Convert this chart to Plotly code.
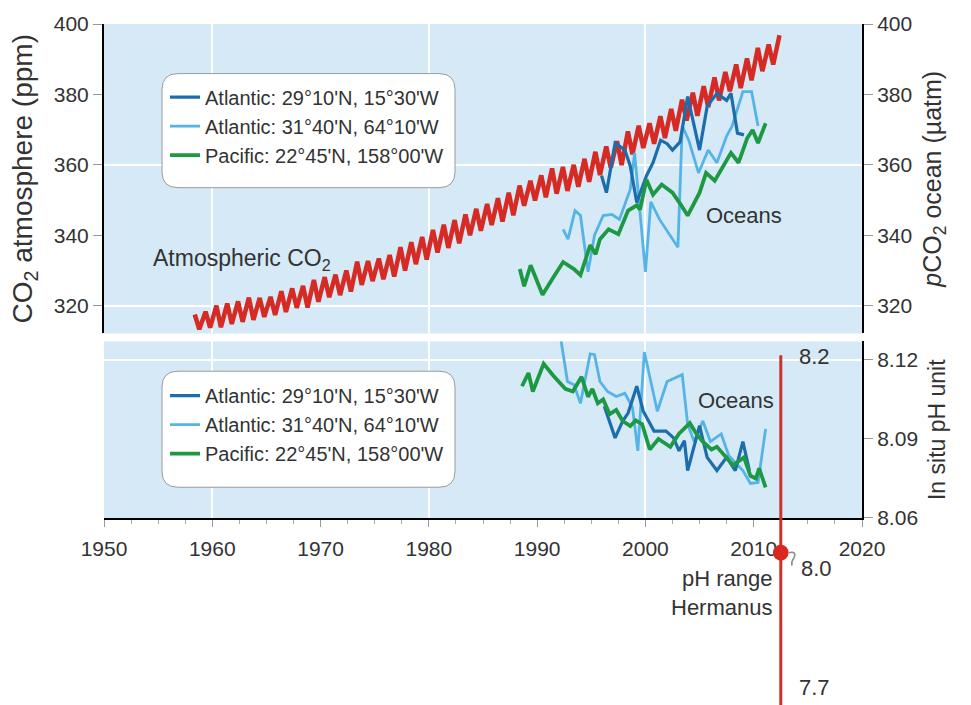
import plotly.graph_objects as go

# ---------------- data ----------------
co2_years = list(range(1958, 2013))
co2_peak = [317.5, 318.3, 320.0, 320.6, 321.2, 322.3, 322.2, 322.5, 324.1, 324.9,
            325.6, 327.3, 328.1, 328.8, 330.0, 332.5, 332.7, 333.4, 334.4, 336.6,
            338.0, 339.5, 341.5, 343.0, 344.3, 345.9, 347.5, 348.9, 350.5, 352.1,
            354.1, 355.5, 357.0, 359.0, 359.4, 360.0, 361.7, 363.7, 365.2, 366.7,
            369.5, 371.1, 371.8, 373.8, 375.9, 378.5, 380.5, 382.3, 384.8, 386.4,
            388.5, 390.2, 393.2, 394.2, 396.8]
co2_trough = [313.3, 313.8, 313.9, 314.8, 315.4, 316.0, 316.8, 317.4, 318.2, 319.4,
              319.5, 321.1, 322.4, 323.0, 324.0, 325.9, 327.0, 327.5, 328.3, 330.0,
              331.8, 333.1, 335.1, 336.4, 337.7, 340.0, 341.3, 342.9, 343.9, 345.7,
              348.4, 349.9, 350.8, 351.8, 352.6, 353.8, 355.2, 357.1, 359.2, 359.9,
              363.0, 364.8, 366.0, 367.6, 369.7, 372.6, 373.9, 376.4, 378.3, 380.9,
              381.8, 384.0, 386.6, 388.5]
peak_offset = 0.38
trough_offset = 0.8

# pCO2 ocean (uatm)
estoc_pco2_x = [1995.95, 1996.4, 1997.2, 1998.1, 1998.6, 1999.2, 2000.1, 2000.7, 2001.4, 2002.0,
                2002.5, 2003.2, 2003.9, 2005.0, 2005.7, 2006.6, 2007.5, 2007.9, 2008.5, 2009.1]
estoc_pco2 = [356.9, 352.1, 366.2, 364.2, 359.7, 349.3, 356.9, 360.6, 367.0, 366.0,
              364.2, 366.5, 379.4, 364.2, 376.6, 380.3, 378.3, 380.3, 369.0, 368.5]

bats_pco2_x = [1992.4, 1992.85, 1993.5, 1994.0, 1994.7, 1995.3, 1996.1, 1996.9, 1997.6, 1998.6,
               1999.0, 2000.0, 2000.5, 2001.3, 2003.0, 2003.4, 2004.0, 2004.9, 2005.8, 2006.6,
               2007.5, 2008.0, 2009.0, 2009.8, 2010.4]
bats_pco2 = [341.7, 338.9, 347.0, 345.6, 329.6, 340.0, 345.6, 345.9, 344.5, 353.0,
             363.4, 329.6, 349.5, 344.5, 336.6, 371.0, 367.0, 357.7, 364.2, 360.6,
             368.2, 371.0, 380.8, 380.8, 371.0]

hot_pco2_x = [1988.4, 1988.8, 1989.4, 1990.5, 1991.4, 1992.4, 1993.4, 1994.0, 1994.9, 1995.4,
              1995.8, 1996.6, 1997.5, 1998.4, 1999.2, 1999.5, 2000.1, 2000.7, 2001.5, 2002.5,
              2003.2, 2003.9, 2005.0, 2005.6, 2006.4, 2007.2, 2007.9, 2008.6, 2009.4, 2009.9,
              2010.4, 2011.1]
hot_pco2 = [330.4, 325.5, 331.5, 323.1, 327.6, 332.4, 330.4, 328.7, 337.2, 334.6,
            338.9, 341.7, 340.3, 347.0, 348.5, 347.3, 355.8, 351.5, 354.4, 352.1,
            349.0, 345.6, 352.1, 357.7, 355.5, 359.7, 363.4, 360.6, 367.6, 369.9,
            366.2, 371.8]

# in situ pH
estoc_ph_x = [1996.2, 1997.2, 1997.9, 1998.4, 1999.2, 1999.8, 2000.8, 2001.9, 2002.6, 2003.1,
              2003.6, 2003.9, 2005.0, 2005.7, 2006.6, 2007.5, 2008.3, 2009.0, 2009.6]
estoc_ph = [8.1024, 8.0904, 8.0968, 8.0998, 8.110, 8.1005, 8.093, 8.093, 8.0904, 8.0855,
            8.0893, 8.078, 8.095, 8.083, 8.078, 8.083, 8.078, 8.089, 8.078]

bats_ph_x = [1992.2, 1992.8, 1993.4, 1994.0, 1994.9, 1995.3, 1995.8, 1996.5, 1997.3, 1998.1,
             1998.8, 1999.3, 1999.9, 2001.1, 2002.0, 2003.0, 2003.4, 2003.9, 2004.5, 2005.3,
             2006.0, 2007.0, 2007.7, 2009.0, 2009.7, 2010.4, 2011.1]
bats_ph = [8.1275, 8.1118, 8.1106, 8.1035, 8.1223, 8.122, 8.1118, 8.108, 8.1061, 8.1073,
           8.102, 8.0855, 8.123, 8.1005, 8.1118, 8.1136, 8.1144, 8.0956, 8.089, 8.0968,
           8.089, 8.0919, 8.0836, 8.078, 8.0731, 8.0735, 8.0938]

hot_ph_x = [1988.6, 1989.2, 1989.6, 1990.6, 1991.5, 1992.6, 1993.3, 1994.1, 1994.7, 1995.1,
            1995.6, 1996.1, 1996.7, 1997.3, 1997.9, 1998.6, 1999.1, 1999.7, 2000.4, 2001.2,
            2002.3, 2003.1, 2004.1, 2004.7, 2005.3, 2006.1, 2006.6, 2007.3, 2008.1, 2009.1,
            2009.7, 2010.2, 2010.5, 2011.1]
hot_ph = [8.110, 8.115, 8.108, 8.1185, 8.114, 8.109, 8.108, 8.1136, 8.106, 8.109,
          8.1035, 8.105, 8.0994, 8.101, 8.0968, 8.0949, 8.097, 8.0956, 8.086, 8.090,
          8.087, 8.092, 8.096, 8.092, 8.089, 8.086, 8.087, 8.0836, 8.080, 8.083,
          8.076, 8.075, 8.0788, 8.0716]

series_names = ["Atlantic: 29°10'N, 15°30'W", "Atlantic: 31°40'N, 64°10'W",
                "Pacific: 22°45'N, 158°00'W"]
series_colors = ["#1c6dab", "#55b4e6", "#1d9944"]
series_widths = [3.2, 2.8, 3.8]

x_tick_years = [1950, 1960, 1970, 1980, 1990, 2000, 2010, 2020]
x_grid_years = [1960, 1980, 2000]
co2_ticks = [320, 340, 360, 380, 400]
co2_grid = [320, 360, 400]
ph_ticks = [8.06, 8.09, 8.12]
ph_grid = [8.12]

hermanus_year = 2012.5
hermanus_labels = ["8.2", "8.0", "7.7"]

# ---------------- build ----------------
co2_x, co2_y = [], []
for i, yr in enumerate(co2_years):
    co2_x.append(yr + peak_offset)
    co2_y.append(co2_peak[i])
    if i < len(co2_trough):
        co2_x.append(yr + trough_offset)
        co2_y.append(co2_trough[i])

FONT = "Liberation Sans, Arial, sans-serif"
TXT = "#333333"
BG = "#d5e9f6"

fig = go.Figure()

fig.add_trace(go.Scatter(x=co2_x, y=co2_y, mode="lines", xaxis="x", yaxis="y",
                         line=dict(color="#d62b24", width=4.5), showlegend=False))

upper = [(estoc_pco2_x, estoc_pco2), (bats_pco2_x, bats_pco2), (hot_pco2_x, hot_pco2)]
lower = [(estoc_ph_x, estoc_ph), (bats_ph_x, bats_ph), (hot_ph_x, hot_ph)]
order = [1, 0, 2]  # draw light blue beneath dark blue
for k in order:
    xs, ys = upper[k]
    fig.add_trace(go.Scatter(x=xs, y=ys, mode="lines", xaxis="x", yaxis="y3",
                             name=series_names[k], legend="legend", legendrank=k + 1,
                             line=dict(color=series_colors[k], width=series_widths[k])))
for k in order:
    xs, ys = lower[k]
    fig.add_trace(go.Scatter(x=xs, y=ys, mode="lines", xaxis="x2", yaxis="y2",
                             name=series_names[k], legend="legend2", legendrank=k + 1,
                             line=dict(color=series_colors[k], width=series_widths[k])))

# helper traces so the grid-only axes are drawn
fig.add_trace(go.Scatter(x=[None], y=[None], xaxis="x", yaxis="y5", showlegend=False, hoverinfo="skip"))
fig.add_trace(go.Scatter(x=[None], y=[None], xaxis="x2", yaxis="y6", showlegend=False, hoverinfo="skip"))
fig.add_trace(go.Scatter(x=[None], y=[None], xaxis="x3", yaxis="y2", showlegend=False, hoverinfo="skip"))

# page geometry (body margin removed by post_script)
W, H = 971, 705
PLOT_L, PLOT_R, PLOT_T, PLOT_B = 104, 862, 20, 518
L, T, R, B = PLOT_L, PLOT_T, W - PLOT_R, H - PLOT_B
PW, PH = PLOT_R - PLOT_L, PLOT_B - PLOT_T


def px(xp):
    return (xp - PLOT_L) / PW


def py(yp):
    return (PLOT_B - yp) / PH


up_dom = [py(332), 1.0]
lo_dom = [0.0, py(340)]
co2_range = [312.1, 400]
ph_range = [8.06, 8.127]
x_range = [1950, 2020]

tickfont = dict(family=FONT, size=21, color=TXT)

grid_common = dict(showticklabels=False, ticks="", showgrid=True, gridcolor="white",
                   gridwidth=2, showline=False, zeroline=False)

fig.update_layout(
    width=W, height=H,
    margin=dict(l=L, r=R, t=T, b=B),
    paper_bgcolor="white", plot_bgcolor=BG,
    font=dict(family=FONT, color=TXT),
    xaxis=dict(domain=[0, 1], anchor="y", range=x_range, tickvals=x_grid_years, **grid_common),
    xaxis2=dict(domain=[0, 1], anchor="y2", range=x_range, tickvals=x_tick_years,
                ticks="outside", ticklen=7, tickwidth=1, tickcolor="#999",
                ticklabelstandoff=4,
                tickfont=tickfont, showgrid=False, showline=True, linecolor="black",
                linewidth=2, zeroline=False,
                minor=dict(tick0=1950, dtick=2.5, ticks="outside", ticklen=4,
                           tickcolor="#aaa", showgrid=False)),
    xaxis3=dict(overlaying="x2", anchor="y2", range=x_range, tickvals=x_grid_years, **grid_common),
    yaxis=dict(domain=up_dom, anchor="x", range=co2_range, tickvals=co2_ticks,
               ticks="outside", ticklen=9, tickwidth=1, tickcolor="#999", tickfont=tickfont,
               showgrid=False, showline=True, linecolor="black", linewidth=2, zeroline=False,
               title=dict(text="CO<sub>2</sub> atmosphere (ppm)",
                          font=dict(family=FONT, size=28, color=TXT), standoff=13)),
    yaxis3=dict(overlaying="y", anchor="x", side="right", range=co2_range, tickvals=co2_ticks,
                ticks="outside", ticklen=9, tickwidth=1, tickcolor="#999", tickfont=tickfont,
                showgrid=False, showline=True, linecolor="black", linewidth=2, zeroline=False,
                title=dict(text="<i>p</i>CO<sub>2</sub> ocean (µatm)",
                           font=dict(family=FONT, size=25, color=TXT), standoff=12)),
    yaxis5=dict(overlaying="y", anchor="x", range=co2_range, tickvals=co2_grid, **grid_common),
    yaxis2=dict(domain=lo_dom, anchor="x2", side="right", range=ph_range, tickvals=ph_ticks,
                tickformat=".2f", ticks="outside", ticklen=9, tickwidth=1, tickcolor="#999",
                tickfont=tickfont, showgrid=False, showline=True, linecolor="black",
                linewidth=2, zeroline=False,
                title=dict(text="In situ pH unit",
                           font=dict(family=FONT, size=23, color=TXT), standoff=12)),
    yaxis6=dict(overlaying="y2", anchor="x2", range=ph_range, tickvals=ph_grid, **grid_common),
    legend=dict(x=px(165), y=py(74), xanchor="left", yanchor="top",
                bgcolor="rgba(0,0,0,0)", borderwidth=0, traceorder="normal",
                font=dict(family=FONT, size=20, color=TXT)),
    legend2=dict(x=px(165), y=py(375), xanchor="left", yanchor="top",
                 bgcolor="rgba(0,0,0,0)", borderwidth=0, traceorder="normal",
                 font=dict(family=FONT, size=20, color=TXT)),
    showlegend=True,
)


def rounded_box(x0p, y0p, x1p, y1p, r=16):
    x0, x1 = px(x0p), px(x1p)
    y0, y1 = py(y1p), py(y0p)
    rx, ry = r / PW, r / PH
    return (f"M {x0+rx},{y0} L {x1-rx},{y0} Q {x1},{y0} {x1},{y0+ry} "
            f"L {x1},{y1-ry} Q {x1},{y1} {x1-rx},{y1} L {x0+rx},{y1} "
            f"Q {x0},{y1} {x0},{y1-ry} L {x0},{y0+ry} Q {x0},{y0} {x0+rx},{y0} Z")


for box in [(162, 70, 455, 185), (162, 370, 455, 487)]:
    fig.add_shape(type="path", path=rounded_box(*box), xref="paper", yref="paper",
                  fillcolor="white", line=dict(color="#9a9a9a", width=1), layer="above")

# Hermanus pH range marker
fig.add_shape(type="line", xref="x", yref="paper", x0=hermanus_year, x1=hermanus_year,
              y0=py(354), y1=py(710), line=dict(color="#c8332c", width=3), layer="above")
fig.add_shape(type="circle", xref="x", yref="paper",
              x0=hermanus_year - 0.72, x1=hermanus_year + 0.72,
              y0=py(553) - 8 / PH, y1=py(553) + 8 / PH,
              fillcolor="#d9281f", line=dict(width=0), layer="above")
# small grey hook next to the marker
fig.add_shape(type="path", xref="paper", yref="paper",
              path=(f"M {px(789)},{py(553)} Q {px(797)},{py(551)} {px(794)},{py(558)} "
                    f"Q {px(791)},{py(562)} {px(792)},{py(566)}"),
              line=dict(color="#8a8a8a", width=1.5), layer="above")

ann_font = dict(family=FONT, size=22, color=TXT)
anns = [
    dict(text="Atmospheric CO<sub>2</sub>", x=px(151), y=py(257), xanchor="left",
         yanchor="middle", font=dict(family=FONT, size=23, color=TXT)),
    dict(text="Oceans", x=px(704), y=py(213), xanchor="left", yanchor="middle"),
    dict(text="Oceans", x=px(696), y=py(400), xanchor="left", yanchor="middle"),
    dict(text=hermanus_labels[0], x=px(797), y=py(355), xanchor="left", yanchor="middle"),
    dict(text=hermanus_labels[1], x=px(799), y=py(569), xanchor="left", yanchor="middle"),
    dict(text=hermanus_labels[2], x=px(797), y=py(689), xanchor="left", yanchor="middle"),
    dict(text="pH range<br>Hermanus", x=px(774), y=py(594), xanchor="right", yanchor="middle",
         align="right"),
]
for a in anns:
    a.setdefault("font", ann_font)
    fig.add_annotation(xref="paper", yref="paper", showarrow=False, **a)

fig.write_html("out.html",
               config={"displayModeBar": False},
               post_script="document.body.style.margin='0';"
                           "document.body.style.overflow='hidden';")
